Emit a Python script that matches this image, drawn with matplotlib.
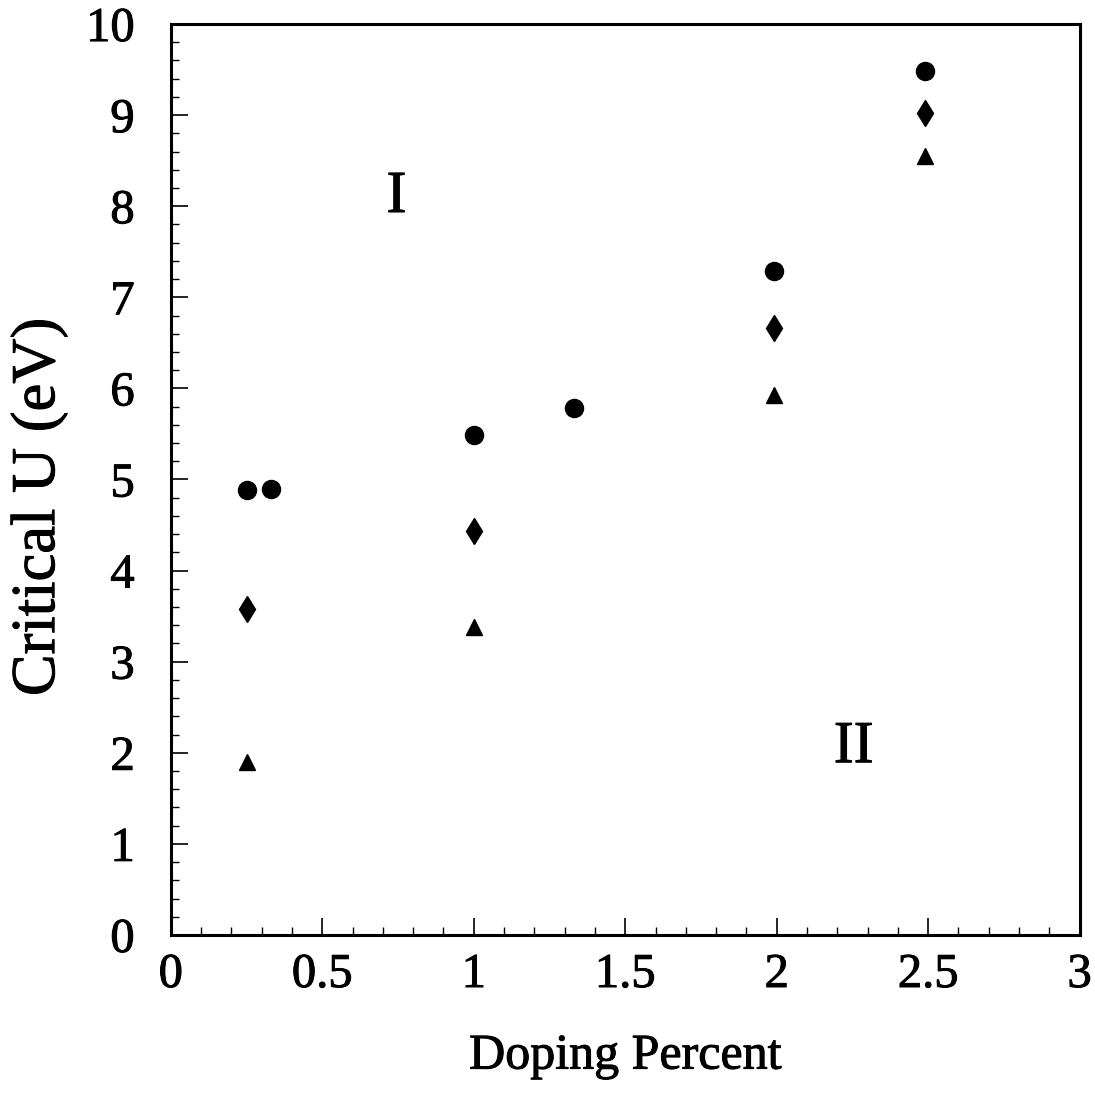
import matplotlib
matplotlib.use("Agg")
import matplotlib.pyplot as plt
import matplotlib.patheffects as pe
from matplotlib.ticker import MultipleLocator

plt.rcParams['font.family'] = ['Liberation Serif', 'DejaVu Serif']

# Critical U versus doping percentage for three criteria
circle_x = [0.25, 0.33, 1.0, 1.33, 1.99, 2.49]
circle_u = [4.88, 4.90, 5.49, 5.78, 7.29, 9.48]

diamond_x = [0.25, 1.0, 1.99, 2.49]
diamond_u = [3.58, 4.43, 6.66, 9.02]

triangle_x = [0.25, 1.0, 1.99, 2.49]
triangle_u = [1.90, 3.38, 5.93, 8.55]

x_ticks = [0, 0.5, 1, 1.5, 2, 2.5, 3]
x_tick_labels = ['0', '0.5', '1', '1.5', '2', '2.5', '3']
y_ticks = list(range(0, 11))

# slightly heavier strokes for all text
thick = [pe.withStroke(linewidth=0.7, foreground='black')]

fig = plt.figure(figsize=(10.95, 10.93), dpi=100)
ax = fig.add_axes([0.156, 0.1446, 0.830, 0.8334])

ax.plot(circle_x, circle_u, 'o', color='black', markersize=13, linestyle='none')
ax.plot(diamond_x, diamond_u, 'd', color='black', markersize=13, linestyle='none')
ax.plot(triangle_x, triangle_u, '^', color='black', markersize=11, linestyle='none')

ax.text(0.745, 8.09, 'I', fontsize=43, ha='center', va='center', path_effects=thick)
ax.text(2.254, 2.05, 'II', fontsize=43, ha='center', va='center', path_effects=thick)

ax.set_xlim(0, 3)
ax.set_ylim(0, 10)
ax.set_xticks(x_ticks)
ax.set_xticklabels(x_tick_labels)
ax.set_yticks(y_ticks)
ax.xaxis.set_minor_locator(MultipleLocator(0.1))
ax.yaxis.set_minor_locator(MultipleLocator(0.2))

ax.tick_params(which='major', direction='in', length=12, width=1.2,
               labelsize=35, top=False, right=False)
ax.tick_params(axis='x', which='major', pad=13)
ax.tick_params(axis='y', which='major', pad=26)
ax.tick_params(which='minor', direction='in', length=6, width=1.0,
               top=False, right=False)
for lbl in ax.get_xticklabels() + ax.get_yticklabels():
    lbl.set_path_effects(thick)

for s in ax.spines.values():
    s.set_linewidth(2.2)

ax.set_xlabel('Doping Percent', fontsize=36, labelpad=26, path_effects=thick)
ax.set_ylabel('Critical U (eV)', fontsize=45, path_effects=thick)
ax.yaxis.set_label_coords(-0.113, 0.47)

fig.savefig('out.png', dpi=100)
